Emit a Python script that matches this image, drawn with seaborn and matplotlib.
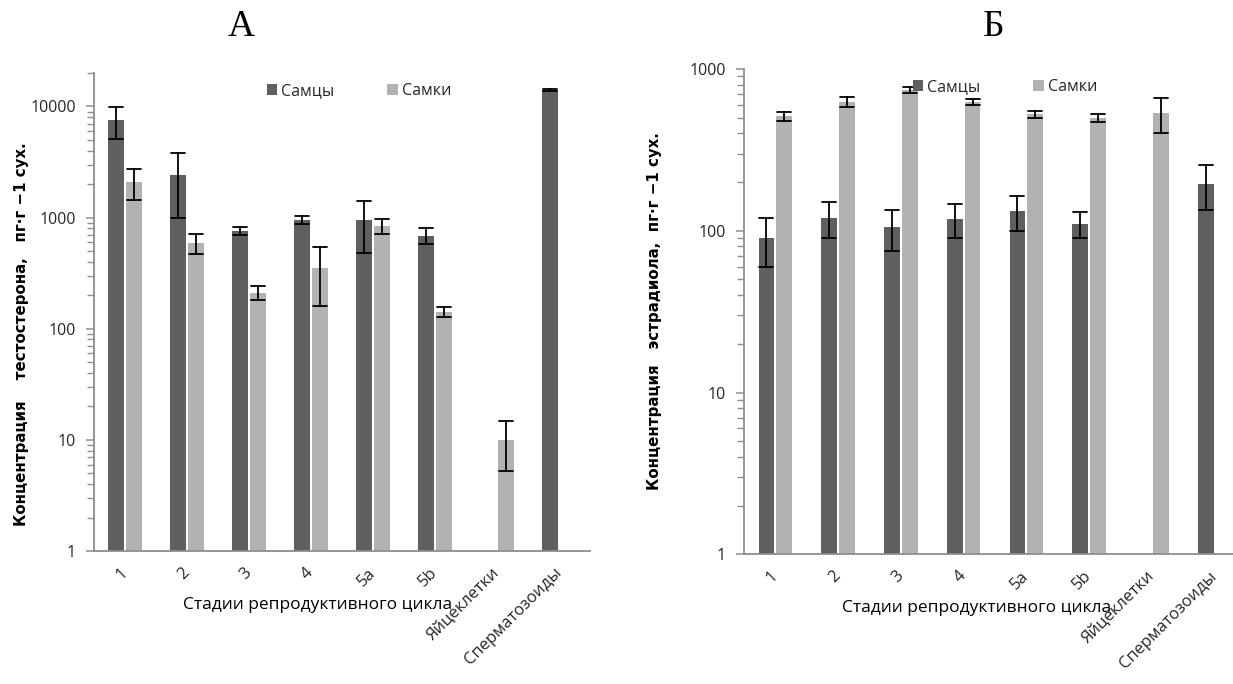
import numpy as np
import pandas as pd
import matplotlib
matplotlib.use("Agg")
import matplotlib.pyplot as plt
import matplotlib.ticker as mticker
import seaborn as sns

# ---------------- data ----------------
categories = ["1", "2", "3", "4", "5a", "5b", "Яйцеклетки", "Сперматозоиды"]
series = ["Самцы", "Самки"]

testo_male = [7500, 2400, 760, 960, 950, 690, np.nan, 14100]
testo_male_err = [2400, 1400, 60, 80, 470, 110, np.nan, 250]
testo_female = [2100, 590, 210, 350, 840, 142, 10, np.nan]
testo_female_err = [650, 120, 30, 190, 125, 14, 4.7, np.nan]

estr_male = [90, 120, 105, 118, 132, 110, np.nan, 195]
estr_male_err = [30, 30, 30, 28, 33, 20, np.nan, 60]
estr_female = [510, 625, 740, 625, 525, 500, 535, np.nan]
estr_female_err = [30, 42, 30, 25, 25, 30, 130, np.nan]

panel_titles = ["А", "Б"]
ylabels = ["Концентрация    тестостерона,   пг·г −1 сух.",
           "Концентрация   эстрадиола,  пг·г −1 сух."]
xlabel = "Стадии репродуктивного цикла"


def long_frame(male, male_err, female, female_err):
    rows = []
    for sex, vals, errs in ((series[0], male, male_err), (series[1], female, female_err)):
        for cat, v, e in zip(categories, vals, errs):
            if np.isnan(v):
                continue
            # three observations: median = value, min/max = value -/+ error
            for obs in (v - e, v, v + e):
                rows.append({"stage": cat, "sex": sex, "value": obs})
    return pd.DataFrame(rows)


df_t = long_frame(testo_male, testo_male_err, testo_female, testo_female_err)
df_e = long_frame(estr_male, estr_male_err, estr_female, estr_female_err)

# ---------------- style ----------------
sns.set_theme(style="white")
plt.rcParams["font.family"] = ["Open Sans", "DejaVu Sans"]

dark = "#5f5f5f"
light = "#b2b2b2"
palette = {series[0]: dark, series[1]: light}
spine_col = "#8e8e8e"
text_col = "#262626"

W, H = 1233, 684
fig = plt.figure(figsize=(W / 100, H / 100), dpi=100)

ax_specs = [
    dict(df=df_t, pos=[94 / W, 1 - 551 / H, 496 / W, 478 / H], ylim=(1, 20000),
         ylab_xy=(-0.147, 0.454), xlab_xy=(0.45, -0.113),
         leg_xy=(259 / W, 1 - 91 / H), title_x=241 / W),
    dict(df=df_e, pos=[744 / W, 1 - 554.3 / H, 502 / W, 485.3 / H], ylim=(1, 1000),
         ylab_xy=(-0.179, 0.501), xlab_xy=(0.464, -0.111),
         leg_xy=(905 / W, 1 - 87 / H), title_x=994 / W),
]

for i, spec in enumerate(ax_specs):
    ax = fig.add_axes(spec["pos"])
    ax.set_yscale("log")
    sns.barplot(
        data=spec["df"], x="stage", y="value", hue="sex",
        order=categories, hue_order=series, palette=palette,
        estimator="median", errorbar=("pi", 100),
        capsize=0.45, err_kws={"color": "black", "linewidth": 1.3},
        width=0.57, gap=0.12, saturation=1, linewidth=0, ax=ax,
    )
    ax.set_ylim(*spec["ylim"])
    ax.set_xlim(-0.5, len(categories) - 0.5)

    for s in ("top", "right"):
        ax.spines[s].set_visible(False)
    for s in ("left", "bottom"):
        ax.spines[s].set_color(spine_col)
        ax.spines[s].set_linewidth(1.3)

    ax.yaxis.set_major_locator(mticker.LogLocator(base=10, numticks=10))
    ax.yaxis.set_minor_locator(mticker.LogLocator(base=10, subs=np.arange(2, 10), numticks=20))
    ax.yaxis.set_major_formatter(mticker.FuncFormatter(lambda v, _: f"{v:g}"))
    ax.yaxis.set_minor_formatter(mticker.NullFormatter())
    ax.tick_params(axis="y", which="major", direction="out", length=6, width=1.1,
                   color=spine_col, labelsize=11.5, labelcolor=text_col, pad=7, left=True)
    ax.tick_params(axis="y", which="minor", direction="out", length=5, width=1.0,
                   color=spine_col, left=True)
    ax.tick_params(axis="x", length=0, pad=14, labelsize=12, labelcolor=text_col)
    for lab in ax.get_xticklabels():
        lab.set_rotation(45)
        lab.set_ha("right")
        lab.set_va("center")
        lab.set_rotation_mode("anchor")

    ax.set_ylabel(ylabels[i], fontsize=10.8, fontweight="bold", color="black",
                  family=["DejaVu Sans"])
    ax.yaxis.set_label_coords(*spec["ylab_xy"])
    ax.yaxis.label.set_va("center")
    ax.set_xlabel(xlabel, fontsize=12.5, color="black")
    ax.xaxis.set_label_coords(*spec["xlab_xy"])
    ax.xaxis.label.set_va("center")

    old = ax.get_legend()
    handles = old.legend_handles
    labels = [t.get_text() for t in old.get_texts()]
    old.remove()
    ax.legend(handles, labels, loc="center left", bbox_to_anchor=spec["leg_xy"],
              bbox_transform=fig.transFigure, ncol=2, frameon=False, borderpad=0,
              handlelength=0.65, handleheight=0.65, handletextpad=0.25,
              columnspacing=3.3, fontsize=11.5, labelcolor=text_col)

    fig.text(spec["title_x"], 1 - 26.5 / H, panel_titles[i], ha="center", va="center",
             fontsize=27, family=["Liberation Serif", "DejaVu Serif"], color="black")

fig.savefig("out.png", dpi=100)
